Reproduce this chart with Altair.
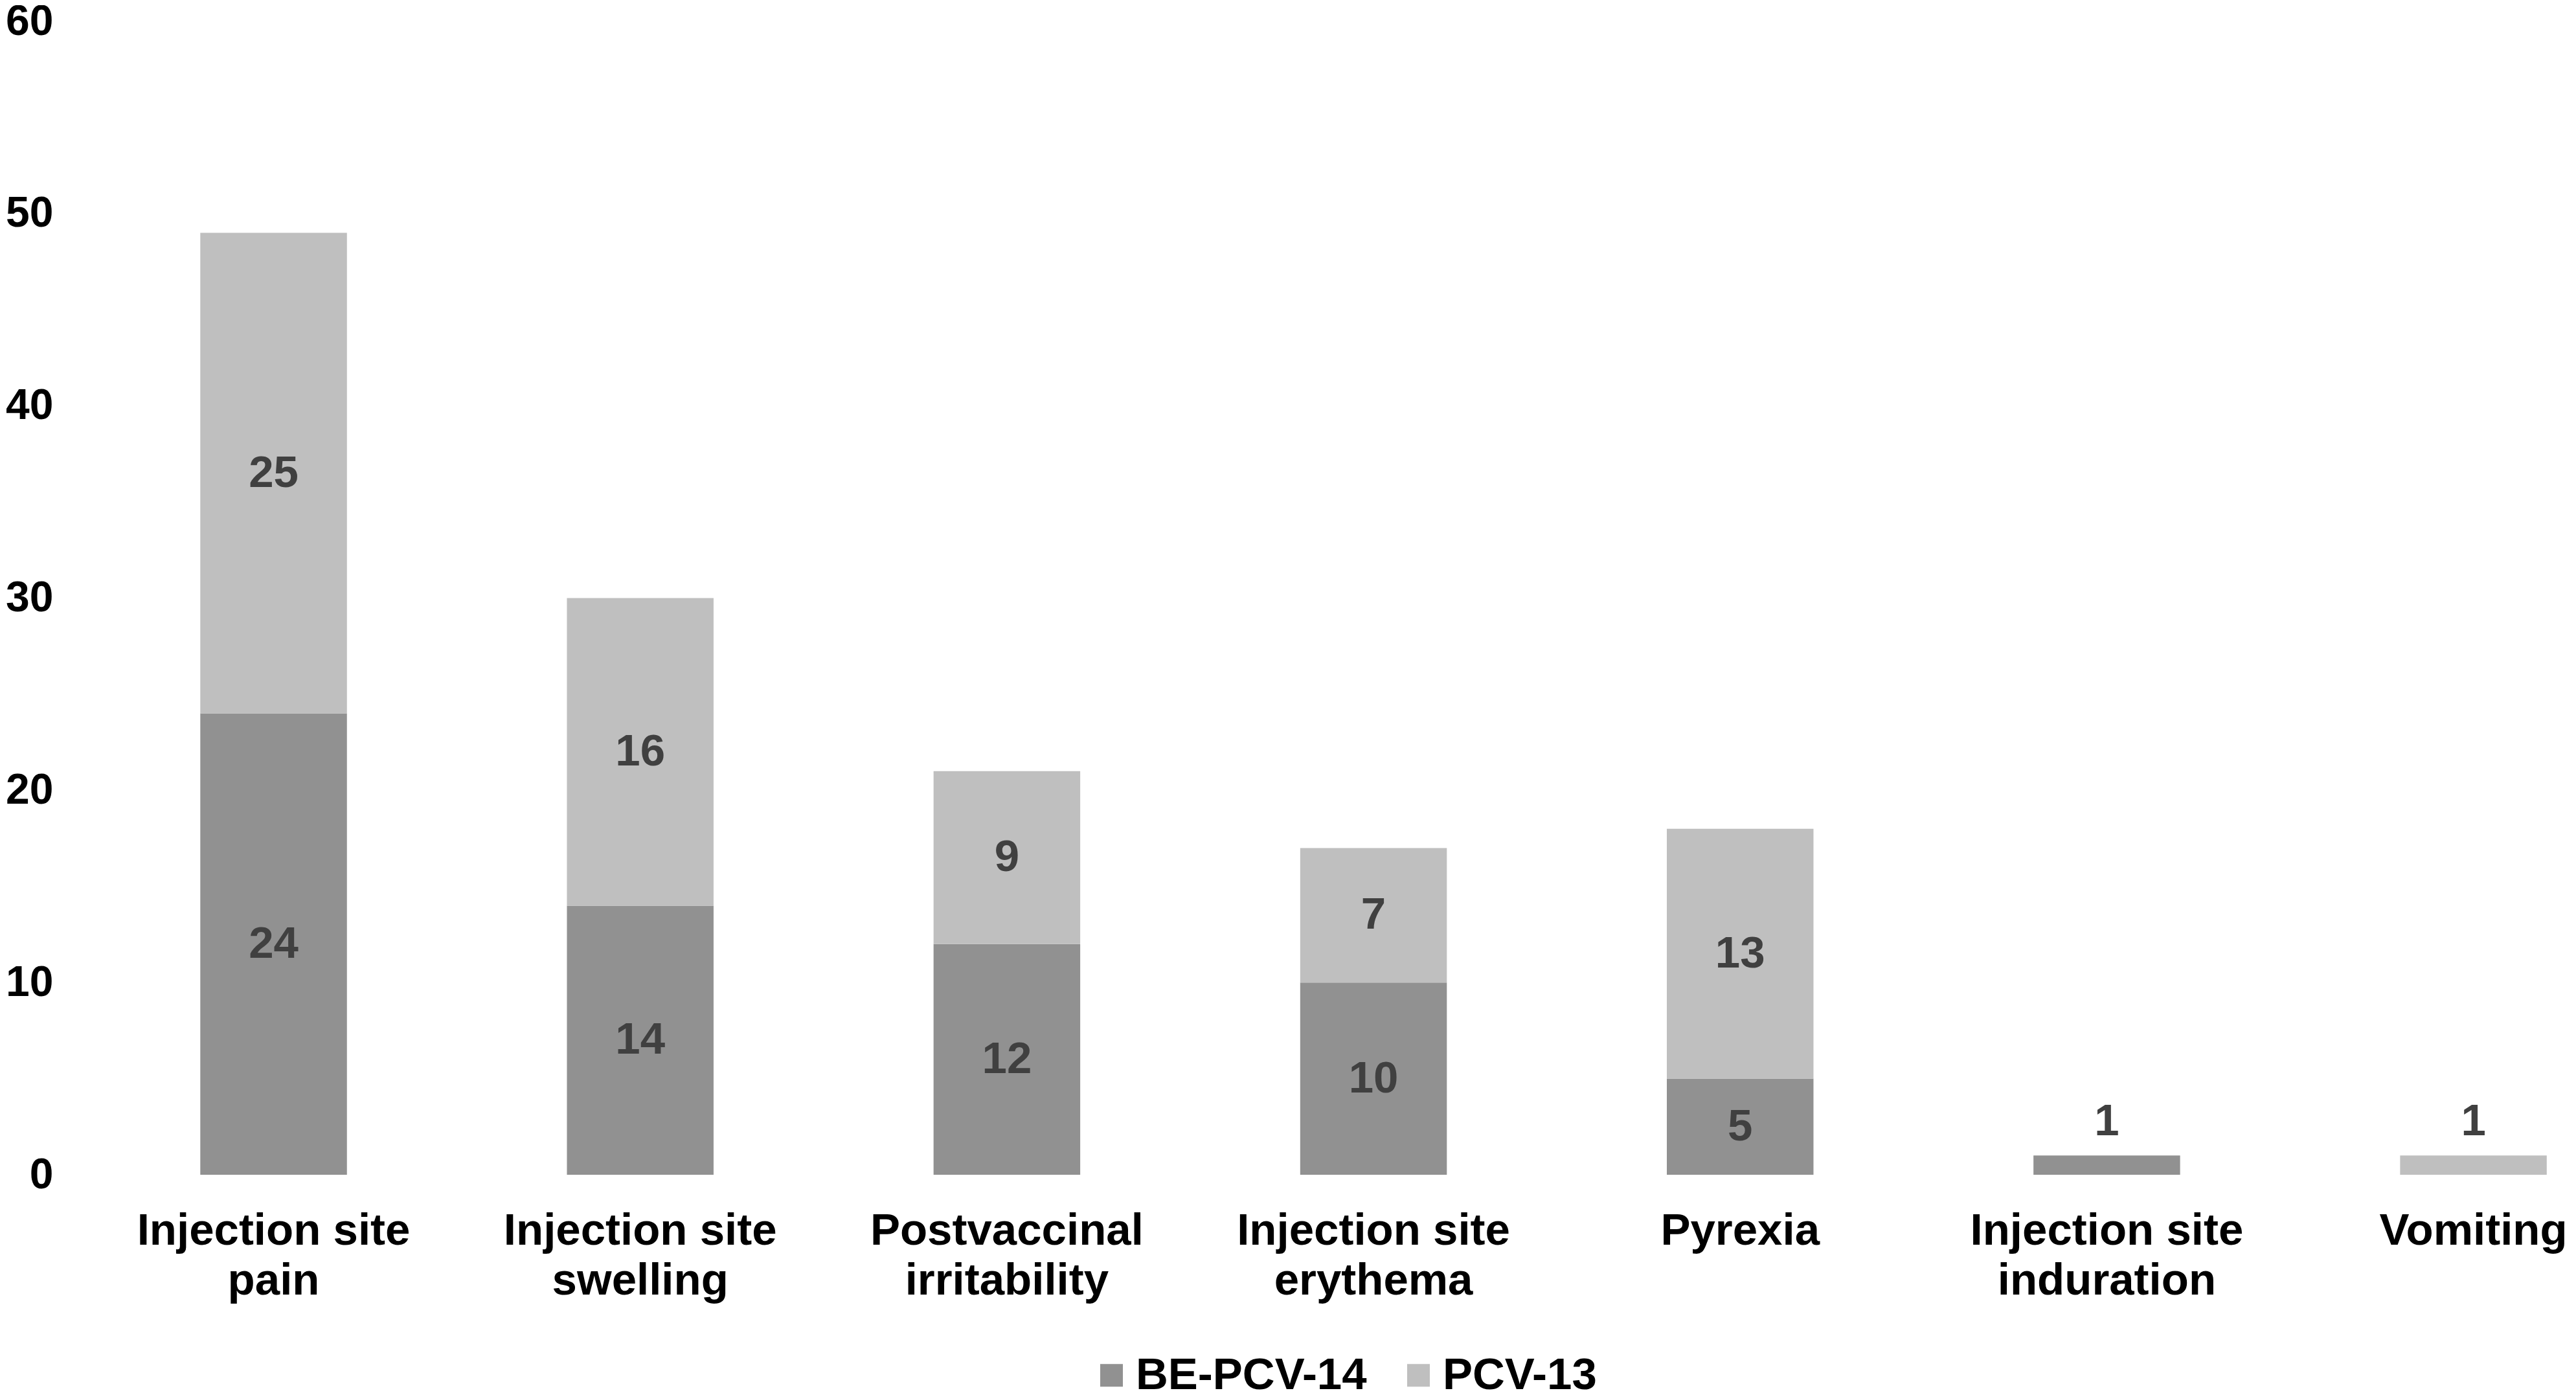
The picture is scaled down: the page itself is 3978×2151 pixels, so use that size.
import altair as alt
import pandas as pd

categories = ["Injection site|pain", "Injection site|swelling", "Postvaccinal|irritability",
              "Injection site|erythema", "Pyrexia", "Injection site|induration", "Vomiting"]
series = ["BE-PCV-14", "PCV-13"]
be_pcv14 = [24, 14, 12, 10, 5, 1, 0]
pcv13 = [25, 16, 9, 7, 13, 0, 1]
colors = ["#919191", "#bfbfbf"]
y_ticks = [0, 10, 20, 30, 40, 50, 60]

rows = []
for i, c in enumerate(categories):
    rows.append({"category": c, "series": series[0], "idx": 0, "value": be_pcv14[i]})
    rows.append({"category": c, "series": series[1], "idx": 1, "value": pcv13[i]})
df = pd.DataFrame(rows)

FONT = "Liberation Sans"
FS = 69

base = alt.Chart(df).transform_stack(
    stack="value", groupby=["category"], as_=["v0", "v1"],
    sort=[alt.SortField("idx", order="ascending")]
).transform_calculate(mid="(datum.v0 + datum.v1) / 2")

xenc = alt.X("category:N", sort=categories, title=None,
             scale=alt.Scale(paddingInner=0.6, paddingOuter=0.2, align=0.88),
             axis=alt.Axis(labelAngle=0, labelExpr="split(datum.label, '|')",
                           labelFont=FONT, labelFontSize=FS, labelFontWeight="bold",
                           labelColor="#000000", labelPadding=52, labelLineHeight=77,
                           labelLimit=2000, domain=False, ticks=False, tickSize=0, grid=False))

yscale = alt.Scale(domain=[0, 60], nice=False)

bars = base.mark_bar().encode(
    x=xenc,
    y=alt.Y("v0:Q", scale=yscale, title=None,
            axis=alt.Axis(values=y_ticks, grid=False, domain=False, ticks=False, tickSize=0,
                          labelFont=FONT, labelFontSize=66, labelFontWeight="bold",
                          labelColor="#000000", labelPadding=28)),
    y2="v1:Q",
    color=alt.Color("series:N", sort=series,
                    scale=alt.Scale(domain=series, range=colors),
                    legend=alt.Legend(title=None, orient="none", direction="horizontal",
                                      legendX=1572, legendY=2056,
                                      symbolType="square", symbolSize=1225,
                                      symbolStrokeWidth=0, symbolOpacity=1,
                                      labelFont=FONT, labelFontSize=FS,
                                      labelFontWeight="bold", labelColor="#000000",
                                      labelOffset=3, columnPadding=45, padding=0,
                                      labelLimit=2000)),
    order=alt.Order("idx:Q"),
)

inside = base.transform_filter("datum.value >= 2").mark_text(
    font=FONT, fontSize=FS, fontWeight="bold", color="#404040", baseline="middle"
).encode(
    x=alt.X("category:N", sort=categories),
    y=alt.Y("mid:Q", scale=yscale),
    text=alt.Text("value:Q"),
)

outside = base.transform_filter("datum.value > 0 && datum.value < 2").mark_text(
    font=FONT, fontSize=FS, fontWeight="bold", color="#404040", baseline="alphabetic", dy=-31
).encode(
    x=alt.X("category:N", sort=categories),
    y=alt.Y("v1:Q", scale=yscale),
    text=alt.Text("value:Q"),
)

chart = alt.layer(bars, inside, outside).properties(
    width=3850, height=1781,
    background="#ffffff",
    autosize=alt.AutoSizeParams(type="none"),
    padding={"left": 102, "top": 25, "right": 8, "bottom": 335},
).configure_view(strokeWidth=0, stroke="transparent")

chart.save("out.html", embed_options={"renderer": "svg", "actions": False})
